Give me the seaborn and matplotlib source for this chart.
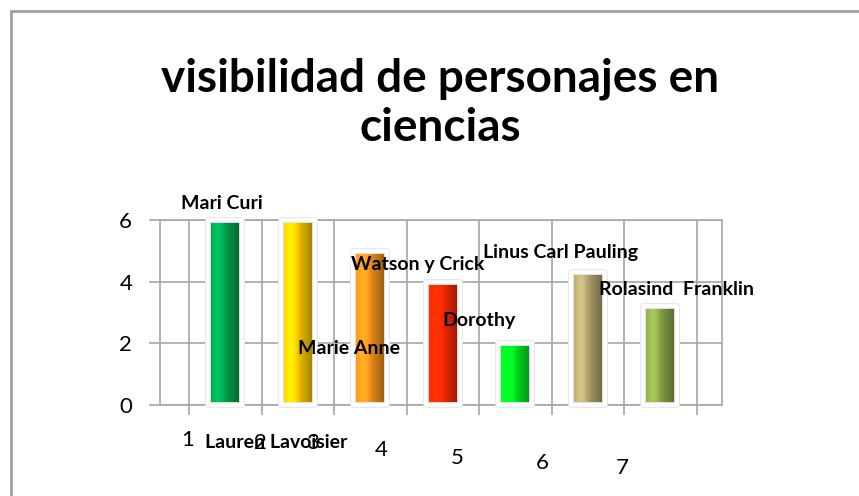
import numpy as np
import pandas as pd
import seaborn as sns
import matplotlib.pyplot as plt
import matplotlib.colors as mcolors
import matplotlib.patheffects as pe
from matplotlib.transforms import ScaledTranslation
from matplotlib.lines import Line2D

# datos
categorias = ['1', '2', '3', '4', '5', '6', '7']
valores = [6, 6, 5, 4, 2, 4.3, 3.2]
nombres = ['Mari Curi', 'Lauren Lavoisier', 'Marie Anne', 'Watson y Crick',
           'Dorothy', 'Linus Carl Pauling', 'Rolasind  Franklin']
colores = ['#00A651', '#FFCC00', '#F7941D', '#FF2A00', '#00EE22', '#B4A770', '#8CAA4A']

# posiciones de las etiquetas (coordenadas de datos)
pos_nombres = [(-0.04, 6.55), (0.70, -1.20), (1.70, 1.82), (2.66, 4.55),
               (3.50, 2.74), (4.63, 4.94), (6.22, 3.73)]

sns.set_theme(style='white')
plt.rcParams['font.family'] = ['Lato', 'DejaVu Sans']

df = pd.DataFrame({'cat': categorias, 'valor': valores})

fig = plt.figure(figsize=(8.59, 4.96), dpi=100)
ax = fig.add_axes([160 / 859, 91 / 496, 562 / 859, 185 / 496])

sns.barplot(data=df, x='cat', y='valor', hue='cat', palette=colores,
            legend=False, width=0.47, ax=ax, zorder=4)

# sombreado tipo cilindro
for patch, col in zip(ax.patches, colores):
    x0, y0 = patch.get_x(), patch.get_y()
    w, h = patch.get_width(), patch.get_height()
    base = np.array(mcolors.to_rgb(col))
    t = np.linspace(0, 1, 64)
    luz = 1.0 + 0.22 * np.exp(-((t - 0.3) / 0.18) ** 2) - 0.45 * t ** 2
    grad = np.clip(base[None, :] * luz[:, None], 0, 1)[None, :, :]
    im = ax.imshow(grad, extent=[x0, x0 + w, y0, y0 + h], aspect='auto',
                   zorder=3, interpolation='bilinear')
    im.set_clip_path(patch)
    patch.set_facecolor('none')
    patch.set_edgecolor('white')
    patch.set_linewidth(2.6)
    patch.set_joinstyle('round')
    patch.set_clip_on(False)
    patch.set_path_effects([pe.withStroke(linewidth=4.2, foreground='#E8E8E8')])

gris = '#A6A6A6'
ax.set_xlim(-0.9, 6.85)
ax.set_ylim(0, 6)
ax.set_yticks([0, 2, 4, 6])
ax.set_yticklabels(['0', '2', '4', '6'], fontsize=16, color='black')
ax.set_xticks([i - 0.52 for i in range(7)])
ax.set_xticklabels(categorias, fontsize=16, color='black')
ax.set_xticks([i + 0.5 for i in range(-1, 7)], minor=True)
ax.tick_params(axis='y', length=8, color=gris, width=1.2, pad=12, left=True)
ax.tick_params(axis='x', which='major', length=0, pad=18)
ax.tick_params(axis='x', which='minor', length=7, color=gris, width=1.2, bottom=True)
ax.grid(axis='y', color=gris, linewidth=1.2, zorder=0)
ax.grid(axis='x', which='minor', color=gris, linewidth=1.2, zorder=0)
for lado in ['left', 'bottom', 'right', 'top']:
    ax.spines[lado].set_color(gris)
    ax.spines[lado].set_linewidth(1.2)
ax.set_xlabel('')
ax.set_ylabel('')

# etiquetas del eje x bajan hacia la derecha (desplazamientos en pixeles)
desp_x = [0, 0, -20, -24, -20, -8, 0]
desp_y = [0, -3, -3, -10, -18, -23, -28]
for lab, dx, dy in zip(ax.get_xticklabels(), desp_x, desp_y):
    lab.set_transform(lab.get_transform() +
                      ScaledTranslation(dx / 100, dy / 100, fig.dpi_scale_trans))

for nombre, (px, py) in zip(nombres, pos_nombres):
    ax.text(px, py, nombre, fontsize=14, fontweight='bold', ha='center', va='center',
            color='black', zorder=6, clip_on=False)

fig.text(440 / 859, 1 - 103 / 496, 'visibilidad de personajes en\nciencias',
         fontsize=33, fontweight='bold', ha='center', va='center', linespacing=1.2,
         color='black')

# marco exterior
fig.add_artist(Line2D([11 / 859, 1], [1 - 11 / 496, 1 - 11 / 496], color='#A0A0A0', lw=2))
fig.add_artist(Line2D([11 / 859, 11 / 859], [0, 1 - 11 / 496], color='#A0A0A0', lw=2))

fig.savefig('out.png', dpi=100, facecolor='white')
